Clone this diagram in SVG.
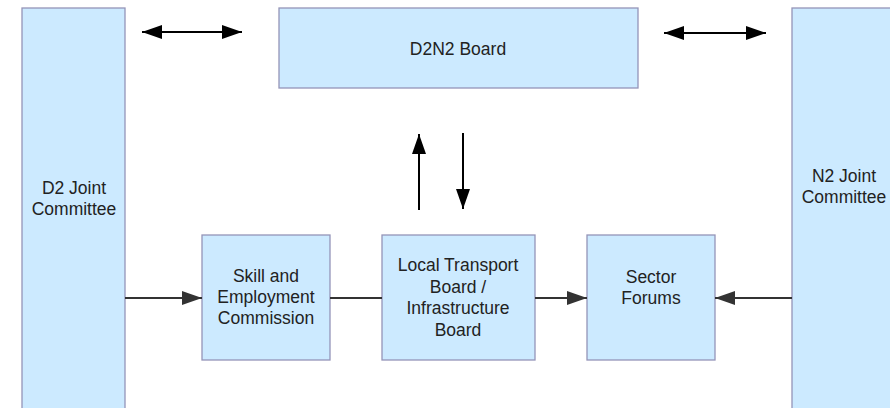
<svg xmlns="http://www.w3.org/2000/svg" width="890" height="408" viewBox="0 0 890 408">
<style>
.box{fill:#cceaff;stroke:#9494b8;stroke-width:1.3}
.t{font-family:"Liberation Sans",Arial,sans-serif;font-size:17.5px;fill:#222;text-anchor:middle}
.c{stroke:#333;stroke-width:2;fill:none}
.k{stroke:#000;stroke-width:2;fill:none}
</style>
<defs>
<marker id="ag" markerWidth="20" markerHeight="14" refX="20" refY="7" orient="auto" markerUnits="userSpaceOnUse"><path d="M0,0 L20,7 L0,14 Z" fill="#333"/></marker>
<marker id="ak" markerWidth="20" markerHeight="14" refX="20" refY="7" orient="auto-start-reverse" markerUnits="userSpaceOnUse"><path d="M0,0 L20,7 L0,14 Z" fill="#000"/></marker>
</defs>
<g id="d2"><rect class="box" x="22" y="8" width="103" height="410"/><text class="t" x="74" y="194">D2 Joint</text><text class="t" x="74" y="215">Committee</text></g>
<g id="d2n2"><rect class="box" x="279" y="8" width="359" height="80"/><text class="t" x="458" y="55">D2N2 Board</text></g>
<g id="n2"><rect class="box" x="792" y="8" width="110" height="410"/><text class="t" x="844" y="182">N2 Joint</text><text class="t" x="844" y="203">Committee</text></g>
<g id="skill"><rect class="box" x="202" y="235" width="128" height="125"/><text class="t" x="266" y="282">Skill and</text><text class="t" x="266" y="303">Employment</text><text class="t" x="266" y="324">Commission</text></g>
<g id="ltb"><rect class="box" x="382" y="235" width="153" height="125"/><text class="t" x="458" y="271">Local Transport</text><text class="t" x="458" y="292.5">Board /</text><text class="t" x="458" y="314">Infrastructure</text><text class="t" x="458" y="335.5">Board</text></g>
<g id="sector"><rect class="box" x="587" y="235" width="128" height="125"/><text class="t" x="651" y="283">Sector</text><text class="t" x="651" y="303.5">Forums</text></g>
<g id="connectors">
<line class="k" x1="142" y1="32" x2="242" y2="32" marker-start="url(#ak)" marker-end="url(#ak)"/>
<line class="k" x1="664" y1="33" x2="766" y2="33" marker-start="url(#ak)" marker-end="url(#ak)"/>
<line class="k" x1="419" y1="210" x2="419" y2="134" marker-end="url(#ak)"/>
<line class="k" x1="463" y1="133" x2="463" y2="209" marker-end="url(#ak)"/>
<line class="c" x1="125" y1="298" x2="202" y2="298" marker-end="url(#ag)"/>
<line class="c" x1="330" y1="298" x2="382" y2="298"/>
<line class="c" x1="535" y1="298" x2="587" y2="298" marker-end="url(#ag)"/>
<line class="c" x1="792" y1="298" x2="715" y2="298" marker-end="url(#ag)"/>
</g>
</svg>
